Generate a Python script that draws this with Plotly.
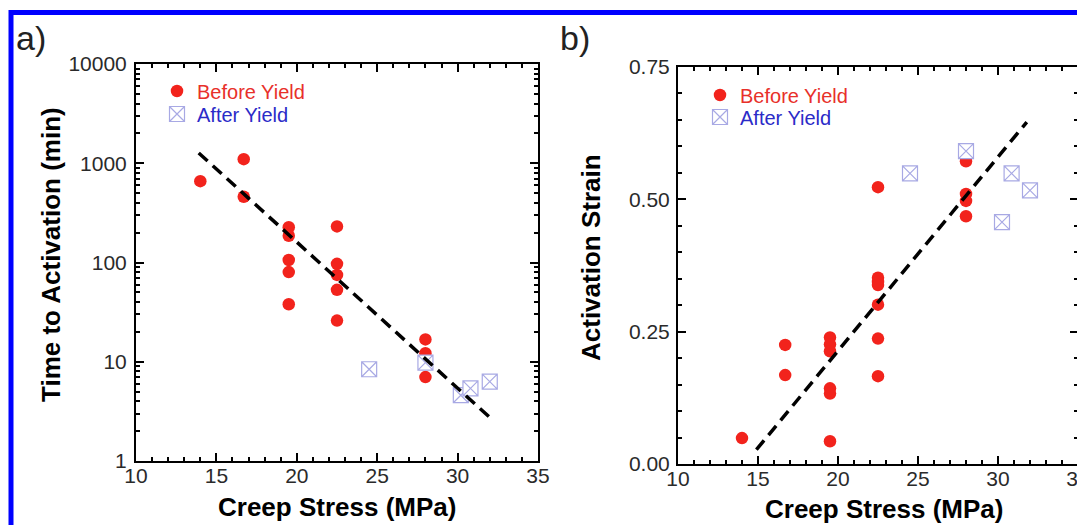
import plotly.graph_objects as go

W, H = 1085, 525
SHIFT = 8  # the page body adds an 8px margin; compensate so positions match the target

# ---------------- data ----------------
# Panel a: time to activation vs creep stress (log y)
before_a_x = [14, 16.7, 16.7, 19.5, 19.5, 19.5, 19.5, 19.5,
              22.5, 22.5, 22.5, 22.5, 22.5, 28, 28, 28]
before_a_y = [660, 1100, 460, 227, 186, 106, 80, 38,
              231, 97, 75, 53, 26, 16.8, 12.2, 7.0]
after_a_x = [24.5, 28, 30.2, 30.8, 32.0]
after_a_y = [8.4, 9.8, 4.6, 5.4, 6.3]
fit_a_x = [13.9, 32.0]
fit_a_y = [1270, 2.75]

# Panel b: activation strain vs creep stress
before_b_x = [14, 16.7, 16.7, 19.5, 19.5, 19.5, 19.5, 19.5, 19.5,
              22.5, 22.5, 22.5, 22.5, 22.5, 22.5, 22.5, 28, 28, 28, 28]
before_b_y = [0.049, 0.225, 0.168, 0.239, 0.226, 0.213, 0.143, 0.133, 0.043,
              0.523, 0.352, 0.344, 0.338, 0.301, 0.237, 0.166,
              0.572, 0.510, 0.497, 0.468]
after_b_x = [24.5, 28, 30.25, 30.85, 32.0]
after_b_y = [0.549, 0.591, 0.457, 0.549, 0.517]
fit_b_x = [14.9, 31.8]
fit_b_y = [0.027, 0.646]

x_ticks = [10, 15, 20, 25, 30, 35]
ya_ticks = [1, 10, 100, 1000, 10000]
ya_ticktext = ["1", "10", "100", "1000", "10000"]
yb_ticks = [0.0, 0.25, 0.5, 0.75]

series_names = ["Before Yield", "After Yield"]
panel_labels = ["a)", "b)"]
x_title = "Creep Stress (MPa)"
ya_title = "Time to Activation (min)"
yb_title = "Activation Strain"

# ---------------- style ----------------
RED = "#f2231c"
LAV = "#a8a9e4"
FONT = "Arial, Liberation Sans, sans-serif"


def px_x(x):
    return (x - SHIFT) / W


def px_y(y):
    return 1 - (y - SHIFT) / H


fig = go.Figure()

circle = dict(symbol="circle", size=12.5, color=RED, line=dict(width=0))
square = dict(symbol="square-x", size=15, color="white", line=dict(color=LAV, width=1.2))
dash_line = dict(color="black", width=3.5, dash="12px,7px")

leg_names = [
    "<span style='color:#e8302a'>%s</span>" % series_names[0],
    "<span style='color:#2b2bc8'>%s</span>" % series_names[1],
]

# panel a traces
fig.add_trace(go.Scatter(x=before_a_x, y=before_a_y, mode="markers", marker=circle,
                         name=leg_names[0], xaxis="x", yaxis="y", legend="legend"))
fig.add_trace(go.Scatter(x=after_a_x, y=after_a_y, mode="markers", marker=square,
                         name=leg_names[1], xaxis="x", yaxis="y", legend="legend2"))
fig.add_trace(go.Scatter(x=fit_a_x, y=fit_a_y, mode="lines", line=dash_line,
                         showlegend=False, xaxis="x", yaxis="y"))

# panel b traces
fig.add_trace(go.Scatter(x=before_b_x, y=before_b_y, mode="markers", marker=circle,
                         name=leg_names[0], xaxis="x2", yaxis="y2", legend="legend3"))
fig.add_trace(go.Scatter(x=after_b_x, y=after_b_y, mode="markers", marker=square,
                         name=leg_names[1], xaxis="x2", yaxis="y2", legend="legend4"))
fig.add_trace(go.Scatter(x=fit_b_x, y=fit_b_y, mode="lines", line=dash_line,
                         showlegend=False, xaxis="x2", yaxis="y2"))

tickfont = dict(family=FONT, size=21, color="#2a2a2a")
common_axis = dict(showline=True, linecolor="black", linewidth=2, mirror="allticks",
                   ticks="inside", ticklen=8, tickwidth=2, tickcolor="black",
                   showgrid=False, zeroline=False, tickfont=tickfont, automargin=False)

xa = dict(common_axis, range=[10, 35], tickvals=x_ticks, ticklabelstandoff=-5,
          minor=dict(dtick=1, tick0=10, ticks="inside", ticklen=4, tickwidth=1.5,
                     tickcolor="black", showgrid=False))


def leg(xtext, ycenter):
    return dict(x=px_x(xtext - 40), y=px_y(ycenter), xanchor="left", yanchor="middle",
                bgcolor="rgba(0,0,0,0)", borderwidth=0,
                font=dict(family=FONT, size=20))


fig.update_layout(
    template="none",
    width=W, height=H,
    margin=dict(l=0, r=0, t=0, b=0, autoexpand=False),
    paper_bgcolor="white", plot_bgcolor="white",
    xaxis=dict(xa, domain=[px_x(136), px_x(538)], anchor="y"),
    yaxis=dict(common_axis, type="log", range=[0, 4], tickvals=ya_ticks, ticktext=ya_ticktext,
               domain=[px_y(461), px_y(64)], anchor="x", ticklabelstandoff=3,
               minor=dict(dtick="D1", ticks="inside", ticklen=4, tickwidth=1.5,
                          tickcolor="black", showgrid=False)),
    xaxis2=dict(xa, domain=[px_x(678), px_x(1078)], anchor="y2"),
    yaxis2=dict(common_axis, range=[0, 0.75], tickvals=yb_ticks, tickformat=".2f",
                domain=[px_y(464), px_y(67)], anchor="x2", ticklabelstandoff=2,
                minor=dict(dtick=0.05, tick0=0, ticks="inside", ticklen=4, tickwidth=1.5,
                           tickcolor="black", showgrid=False)),
    legend=leg(197, 91),
    legend2=leg(197, 114),
    legend3=leg(740, 95),
    legend4=leg(740, 117),
    showlegend=True,
)

title_font = dict(family=FONT, size=26, color="black")
annotations = [
    dict(text="<b>%s</b>" % x_title, x=px_x(337), y=px_y(507), font=title_font),
    dict(text="<b>%s</b>" % ya_title, x=px_x(51), y=px_y(255), textangle=-90, font=title_font),
    dict(text="<b>%s</b>" % x_title, x=px_x(884), y=px_y(509), font=title_font),
    dict(text="<b>%s</b>" % yb_title, x=px_x(591), y=px_y(258), textangle=-90, font=title_font),
    dict(text=panel_labels[0], x=px_x(31), y=px_y(38), font=dict(family=FONT, size=34, color="#222")),
    dict(text=panel_labels[1], x=px_x(575), y=px_y(38), font=dict(family=FONT, size=34, color="#222")),
]
for a in annotations:
    a.update(xref="paper", yref="paper", showarrow=False, xanchor="center", yanchor="middle")
fig.update_layout(annotations=annotations)

# blue frame around the figure
fig.add_shape(type="rect", xref="paper", yref="paper",
              x0=px_x(11), x1=1.05, y0=-0.05, y1=px_y(12.5),
              line=dict(color="#0000ff", width=5), fillcolor="rgba(0,0,0,0)", layer="above")

fig.write_html("out.html", config={"displayModeBar": False})
